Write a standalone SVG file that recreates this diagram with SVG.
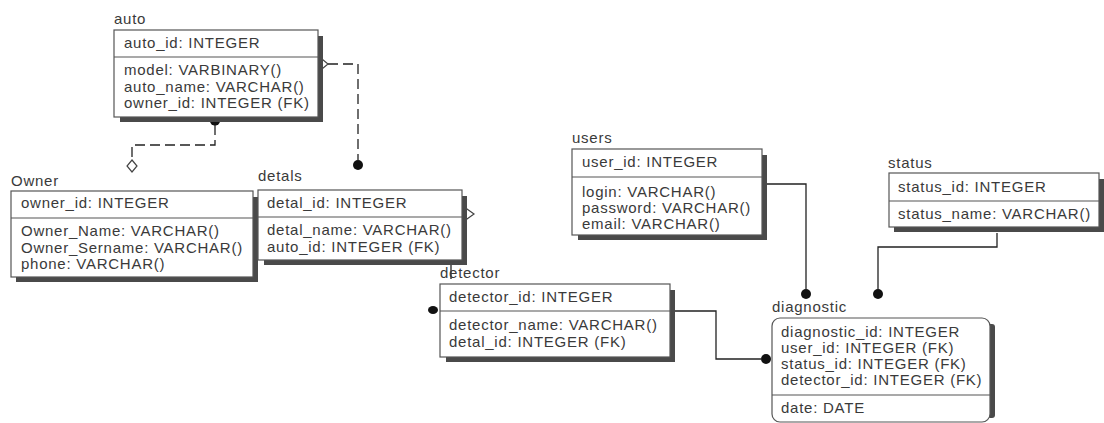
<svg xmlns="http://www.w3.org/2000/svg" width="1104" height="423" viewBox="0 0 1104 423">
<style>
text{font-family:"Liberation Sans",Arial,sans-serif;font-size:15px;letter-spacing:0.75px;fill:#3a3a3a}
.box{fill:#fff;stroke:#555;stroke-width:1.2}
.sep{stroke:#555;stroke-width:1.2}
.sh{fill:#4a4a4a}
.ln{fill:none;stroke:#222;stroke-width:1.3}
.dash{fill:none;stroke:#222;stroke-width:1.3;stroke-dasharray:10 5}
.dot{fill:#111}
.dia{fill:#fff;stroke:#444;stroke-width:1.2}
</style>
<rect width="1104" height="423" fill="#fff"/>
<g id="connectors">
  <path class="dash" d="M215,125 V145 H132 V160"/>
  <polygon class="dia" points="132,160 137,166 132,172 127,166"/>
  <ellipse class="dot" cx="215" cy="121" rx="5" ry="4.5"/>
  <path class="dash" d="M328,64 H358 V160"/>
  <polygon class="dia" points="316,64 322,59 328,64 322,69"/>
  <circle class="dot" cx="358" cy="165" r="5"/>
  <polygon class="dia" points="460,214 467,209 474,214 467,219"/>
  <path class="ln" d="M451,262 V279"/>
  <ellipse class="dot" cx="433" cy="310" rx="5" ry="4"/>
  <path class="ln" d="M670,311 H716 V359 H761"/>
  <circle class="dot" cx="766" cy="359" r="5"/>
  <path class="ln" d="M767,184 H806 V289"/>
  <circle class="dot" cx="806" cy="294" r="5"/>
  <path class="ln" d="M997,233 V247 H878 V289"/>
  <circle class="dot" cx="878" cy="294" r="5"/>
</g>
<g id="auto">
  <text x="114" y="24">auto</text>
  <rect class="sh" x="318" y="36" width="5" height="86"/>
  <rect class="sh" x="120" y="117" width="203" height="5"/>
  <rect class="box" x="114" y="30" width="204" height="87"/>
  <line class="sep" x1="114" y1="57" x2="318" y2="57"/>
  <text x="124" y="48">auto_id: INTEGER</text>
  <text x="124" y="75">model: VARBINARY()</text>
  <text x="124" y="91.5">auto_name: VARCHAR()</text>
  <text x="124" y="108">owner_id: INTEGER (FK)</text>
</g>
<g id="owner">
  <text x="11" y="186">Owner</text>
  <rect class="sh" x="253" y="197" width="5" height="85"/>
  <rect class="sh" x="16" y="277" width="242" height="5"/>
  <rect class="box" x="11" y="191" width="242" height="86"/>
  <line class="sep" x1="11" y1="218" x2="253" y2="218"/>
  <text x="21" y="208">owner_id: INTEGER</text>
  <text x="21" y="236">Owner_Name: VARCHAR()</text>
  <text x="21" y="252.5">Owner_Sername: VARCHAR()</text>
  <text x="21" y="269">phone: VARCHAR()</text>
</g>
<g id="detals">
  <text x="258" y="181">detals</text>
  <rect class="sh" x="462" y="196" width="5" height="69"/>
  <rect class="sh" x="264" y="260" width="203" height="5"/>
  <rect class="box" x="258" y="190" width="204" height="70"/>
  <line class="sep" x1="258" y1="217" x2="462" y2="217"/>
  <text x="267" y="208">detal_id: INTEGER</text>
  <text x="267" y="235">detal_name: VARCHAR()</text>
  <text x="267" y="251.5">auto_id: INTEGER (FK)</text>
</g>
<g id="detector">
  <text x="440" y="278">detector</text>
  <rect class="sh" x="670" y="290" width="5" height="72"/>
  <rect class="sh" x="446" y="357" width="229" height="5"/>
  <rect class="box" x="440" y="284" width="230" height="73"/>
  <line class="sep" x1="440" y1="311" x2="670" y2="311"/>
  <text x="449" y="302">detector_id: INTEGER</text>
  <text x="449" y="330">detector_name: VARCHAR()</text>
  <text x="449" y="346.5">detal_id: INTEGER (FK)</text>
</g>
<g id="users">
  <text x="572" y="143">users</text>
  <rect class="sh" x="762" y="155" width="5" height="85"/>
  <rect class="sh" x="578" y="235" width="189" height="5"/>
  <rect class="box" x="572" y="149" width="190" height="86"/>
  <line class="sep" x1="572" y1="177" x2="762" y2="177"/>
  <text x="582" y="167">user_id: INTEGER</text>
  <text x="582" y="197">login: VARCHAR()</text>
  <text x="582" y="213">password: VARCHAR()</text>
  <text x="582" y="229">email: VARCHAR()</text>
</g>
<g id="status">
  <text x="888" y="168">status</text>
  <rect class="sh" x="1099" y="179" width="5" height="53"/>
  <rect class="sh" x="894" y="227" width="210" height="5"/>
  <rect class="box" x="889" y="173" width="210" height="54"/>
  <line class="sep" x1="889" y1="201" x2="1099" y2="201"/>
  <text x="898" y="192">status_id: INTEGER</text>
  <text x="898" y="219">status_name: VARCHAR()</text>
</g>
<g id="diagnostic">
  <text x="772" y="312">diagnostic</text>
  <rect class="sh" x="987" y="324" width="8" height="94" rx="3"/>
  <rect class="box" x="772" y="318" width="218" height="104" rx="8"/>
  <line class="sep" x1="772" y1="395" x2="990" y2="395"/>
  <text x="781" y="337">diagnostic_id: INTEGER</text>
  <text x="781" y="353">user_id: INTEGER (FK)</text>
  <text x="781" y="369">status_id: INTEGER (FK)</text>
  <text x="781" y="385">detector_id: INTEGER (FK)</text>
  <text x="781" y="413">date: DATE</text>
</g>
</svg>
